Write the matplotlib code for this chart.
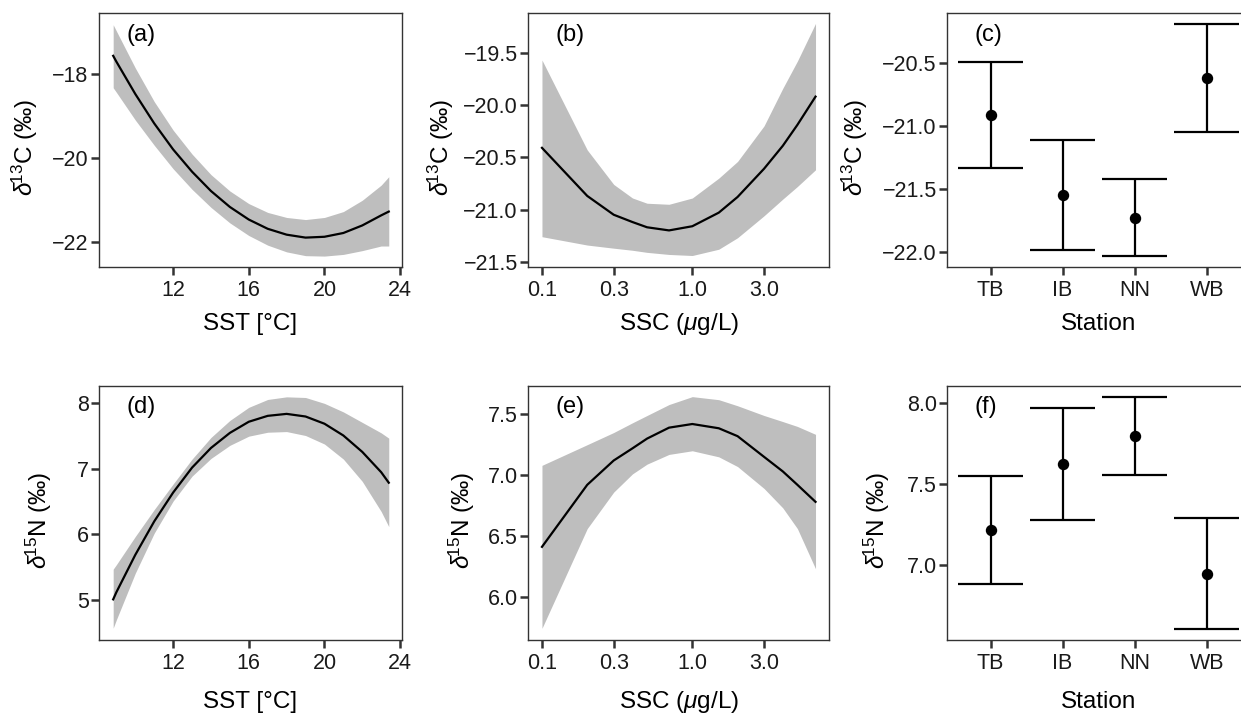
import matplotlib
matplotlib.use("Agg")
import matplotlib.pyplot as plt
import numpy as np

plt.rcParams['font.family'] = ['Liberation Sans', 'DejaVu Sans']
plt.rcParams['mathtext.fontset'] = 'custom'
plt.rcParams['mathtext.rm'] = 'Liberation Sans'
plt.rcParams['mathtext.it'] = 'Liberation Sans:italic'

# --- data ---
sst = [8.83, 9, 10, 11, 12, 13, 14, 15, 16, 17, 18, 19, 20, 21, 22, 23, 23.4]
d13c_sst_fit = [-17.57, -17.71, -18.48, -19.18, -19.80, -20.33, -20.79, -21.17, -21.47,
                -21.69, -21.83, -21.90, -21.88, -21.79, -21.61, -21.37, -21.28]
d13c_sst_lo = [-18.33, -18.44, -19.10, -19.70, -20.26, -20.75, -21.18, -21.55, -21.85,
               -22.08, -22.24, -22.33, -22.34, -22.30, -22.21, -22.10, -22.10]
d13c_sst_hi = [-16.83, -16.98, -17.86, -18.66, -19.34, -19.91, -20.40, -20.79, -21.09,
               -21.30, -21.42, -21.47, -21.42, -21.28, -21.01, -20.65, -20.45]

d15n_sst_fit = [5.01, 5.12, 5.69, 6.20, 6.64, 7.02, 7.32, 7.55, 7.72,
                7.81, 7.84, 7.80, 7.69, 7.51, 7.26, 6.95, 6.79]
d15n_sst_lo = [4.57, 4.70, 5.41, 6.02, 6.51, 6.89, 7.16, 7.36, 7.50,
               7.56, 7.57, 7.51, 7.38, 7.15, 6.81, 6.35, 6.12]
d15n_sst_hi = [5.47, 5.54, 5.97, 6.38, 6.77, 7.15, 7.48, 7.74, 7.94,
               8.06, 8.10, 8.09, 8.00, 7.87, 7.71, 7.55, 7.47]

ssc = [0.1, 0.2, 0.3, 0.4, 0.5, 0.7, 1.0, 1.5, 2.0, 3.0, 4.0, 5.0, 6.6]
d13c_ssc_fit = [-20.41, -20.87, -21.05, -21.12, -21.17, -21.20, -21.16, -21.03,
                -20.88, -20.61, -20.39, -20.19, -19.92]
d13c_ssc_lo = [-21.26, -21.34, -21.37, -21.39, -21.41, -21.43, -21.44, -21.38,
               -21.27, -21.06, -20.90, -20.78, -20.62]
d13c_ssc_hi = [-19.57, -20.43, -20.76, -20.89, -20.94, -20.95, -20.89, -20.70,
               -20.54, -20.20, -19.84, -19.58, -19.22]

d15n_ssc_fit = [6.41, 6.92, 7.12, 7.22, 7.30, 7.39, 7.42, 7.385, 7.32,
                7.15, 7.03, 6.92, 6.78]
d15n_ssc_lo = [5.74, 6.56, 6.86, 7.01, 7.09, 7.17, 7.20, 7.15, 7.07,
               6.89, 6.73, 6.56, 6.23]
d15n_ssc_hi = [7.08, 7.25, 7.35, 7.43, 7.49, 7.58, 7.645, 7.62, 7.57,
               7.49, 7.44, 7.40, 7.335]

stations = ['TB', 'IB', 'NN', 'WB']
d13c_st_mean = [-20.91, -21.545, -21.73, -20.62]
d13c_st_lo = [-21.33, -21.98, -22.03, -21.045]
d13c_st_hi = [-20.49, -21.105, -21.42, -20.19]
d15n_st_mean = [7.217, 7.623, 7.797, 6.946]
d15n_st_lo = [6.887, 7.279, 7.556, 6.61]
d15n_st_hi = [7.549, 7.969, 8.037, 7.289]

W, H = 1241, 714
fig = plt.figure(figsize=(W / 100, H / 100), dpi=100)

def add_ax(x0, x1, ytop, ybot):
    return fig.add_axes([x0 / W, 1 - ybot / H, (x1 - x0) / W, (ybot - ytop) / H])

rows = [(13, 267), (385.7, 640)]
cols = [(99, 402), (528.3, 829.3), (947.3, 1250)]
axes = [[add_ax(c[0], c[1], r[0], r[1]) for c in cols] for r in rows]

band_col = '#bebebe'
tick_col = '#1a1a1a'
TICK_FS = 15.5
LAB_FS = 17.5

def style(ax, letter, xlab_y, ylab_x):
    for s in ax.spines.values():
        s.set_color('#333333')
        s.set_linewidth(1.0)
    ax.tick_params(axis='both', which='major', length=5.5, width=1.8, color='#333333',
                   labelsize=TICK_FS, labelcolor=tick_col)
    ax.tick_params(axis='x', pad=4)
    ax.tick_params(axis='y', pad=2)
    ax.tick_params(which='minor', length=0)
    ax.xaxis.label.set_va('center')
    ax.xaxis.set_label_coords(0.5, xlab_y)
    ax.yaxis.label.set_va('center')
    ax.yaxis.set_label_coords(ylab_x, 0.47)
    ax.text(0.09, 0.915, letter, transform=ax.transAxes, fontsize=17,
            ha='left', va='center', color='black')

def smooth_panel(ax, x, fit, lo, hi, logx=False):
    ax.fill_between(x, lo, hi, color=band_col, linewidth=0)
    ax.plot(x, fit, color='black', linewidth=1.6)
    if logx:
        ax.set_xscale('log')
        ax.set_xlim(0.0811, 8.15)
        ax.set_xticks([0.1, 0.3, 1.0, 3.0])
        ax.set_xticklabels(['0.1', '0.3', '1.0', '3.0'])
        ax.minorticks_off()
        ax.set_xlabel(r'SSC ($\mu$g/L)', fontsize=LAB_FS)
    else:
        ax.set_xlim(8.08, 24.1)
        ax.set_xticks([12, 16, 20, 24])
        ax.set_xlabel('SST [°C]', fontsize=LAB_FS)

def station_panel(ax, mean, lo, hi):
    xs = np.arange(1, len(stations) + 1)
    ax.vlines(xs, lo, hi, color='black', linewidth=1.6)
    ax.hlines(lo, xs - 0.45, xs + 0.45, color='black', linewidth=1.6)
    ax.hlines(hi, xs - 0.45, xs + 0.45, color='black', linewidth=1.6)
    ax.plot(xs, mean, 'o', color='black', markersize=7.2)
    ax.set_xlim(0.4, 4.6)
    ax.set_xticks(xs)
    ax.set_xticklabels(stations)
    ax.set_xlabel('Station', fontsize=LAB_FS)

def minus_labels(vals, fmt):
    return [(fmt % v).replace('-', '\u2212') for v in vals]

ylab_c = r'$\delta^{\!13}$C (‰)'
ylab_n = r'$\delta^{\!15}$N (‰)'
TOP_XL, BOT_XL = -0.225, -0.243

ax = axes[0][0]
smooth_panel(ax, sst, d13c_sst_fit, d13c_sst_lo, d13c_sst_hi)
ax.set_ylim(-22.6, -16.55)
yt = [-18, -20, -22]
ax.set_yticks(yt)
ax.set_yticklabels(minus_labels(yt, '%d'))
ax.set_ylabel(ylab_c, fontsize=LAB_FS)
style(ax, '(a)', TOP_XL, -0.244)

ax = axes[0][1]
smooth_panel(ax, ssc, d13c_ssc_fit, d13c_ssc_lo, d13c_ssc_hi, logx=True)
ax.set_ylim(-21.55, -19.12)
yt = [-19.5, -20.0, -20.5, -21.0, -21.5]
ax.set_yticks(yt)
ax.set_yticklabels(minus_labels(yt, '%.1f'))
ax.set_ylabel(ylab_c, fontsize=LAB_FS)
style(ax, '(b)', TOP_XL, -0.291)

ax = axes[0][2]
station_panel(ax, d13c_st_mean, d13c_st_lo, d13c_st_hi)
ax.set_ylim(-22.117, -20.10)
yt = [-20.5, -21.0, -21.5, -22.0]
ax.set_yticks(yt)
ax.set_yticklabels(minus_labels(yt, '%.1f'))
ax.set_ylabel(ylab_c, fontsize=LAB_FS)
style(ax, '(c)', TOP_XL, -0.305)

ax = axes[1][0]
smooth_panel(ax, sst, d15n_sst_fit, d15n_sst_lo, d15n_sst_hi)
ax.set_ylim(4.39, 8.27)
ax.set_yticks([5, 6, 7, 8])
ax.set_ylabel(ylab_n, fontsize=LAB_FS)
style(ax, '(d)', BOT_XL, -0.197)

ax = axes[1][1]
smooth_panel(ax, ssc, d15n_ssc_fit, d15n_ssc_lo, d15n_ssc_hi, logx=True)
ax.set_ylim(5.644, 7.735)
yt = [6.0, 6.5, 7.0, 7.5]
ax.set_yticks(yt)
ax.set_yticklabels(minus_labels(yt, '%.1f'))
ax.set_ylabel(ylab_n, fontsize=LAB_FS)
style(ax, '(e)', BOT_XL, -0.221)

ax = axes[1][2]
station_panel(ax, d15n_st_mean, d15n_st_lo, d15n_st_hi)
ax.set_ylim(6.54, 8.105)
yt = [7.0, 7.5, 8.0]
ax.set_yticks(yt)
ax.set_yticklabels(minus_labels(yt, '%.1f'))
ax.set_ylabel(ylab_n, fontsize=LAB_FS)
style(ax, '(f)', BOT_XL, -0.233)

fig.savefig('out.png', dpi=100)
